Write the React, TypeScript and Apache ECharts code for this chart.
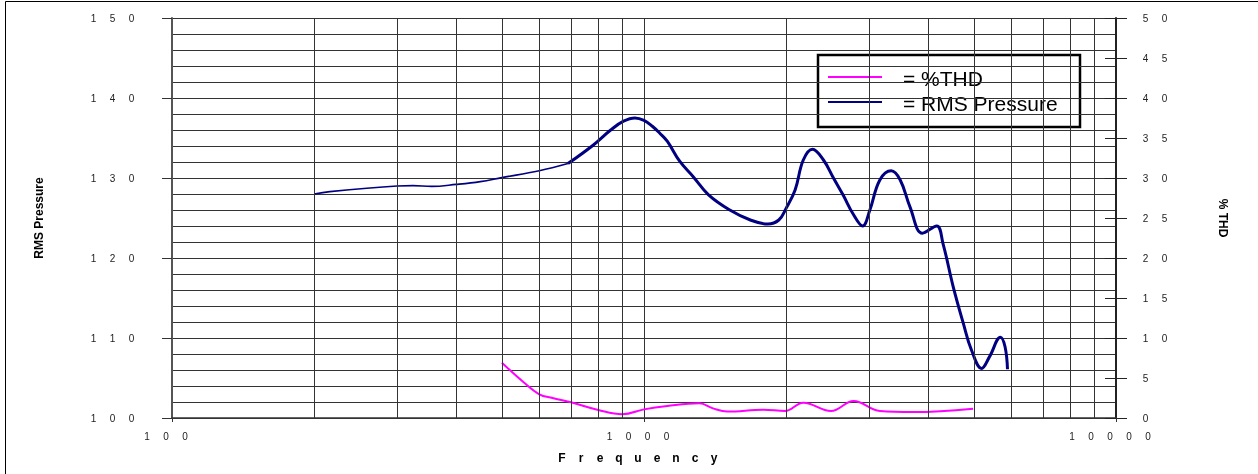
import React, { useEffect, useRef } from 'react';
import * as echarts from 'echarts';

// RMS Pressure (left axis), frequency in Hz
const rmsFreq = [200, 216, 300, 324, 355, 400, 450, 500, 600, 690, 780, 850, 905, 957, 1000, 1040, 1080, 1120, 1190, 1270, 1370, 1520, 1680, 1830, 1930, 2000, 2090, 2175, 2275, 2400, 2520, 2640, 2780, 2905, 3010, 3160, 3340, 3490, 3660, 3890, 4170, 4300, 4520, 4750, 4940, 5190, 5400, 5690, 5820, 5890];
const rmsValue = [128.0, 128.3, 129.0, 129.05, 128.95, 129.2, 129.55, 130.05, 130.9, 131.8, 134.1, 136.0, 137.1, 137.5, 137.2, 136.5, 135.6, 134.6, 132.1, 130.2, 127.9, 126.0, 124.75, 124.25, 124.75, 126.2, 128.5, 132.25, 133.6, 132.25, 130.0, 127.9, 125.4, 124.0, 126.0, 129.75, 130.9, 129.75, 126.4, 123.1, 124.0, 121.8, 116.4, 111.8, 108.5, 106.2, 107.7, 110.1, 108.9, 106.1];
// %THD (right axis)
const thdFreq = [500, 555, 600, 640, 700, 800, 900, 1000, 1120, 1310, 1400, 1500, 1790, 1990, 2175, 2490, 2780, 3160, 3720, 4980];
const thdValue = [6.9, 4.5, 2.96, 2.5, 1.96, 1.0, 0.46, 1.08, 1.5, 1.83, 1.2, 0.8, 1.04, 0.875, 1.92, 0.875, 2.12, 0.875, 0.75, 1.17];
// vertical minor grid lines of the log axis
const minorGridFreq = [200, 300, 400, 500, 600, 700, 800, 900, 2000, 3000, 4000, 5000, 6000, 7000, 8000, 9000];
// axis ranges
const xRange = [100, 10000];
const leftRange = [100, 150];
const rightRange = [0, 50];
const thinSplitFreq = 690;

const FONT = 'Liberation Sans, Arial, sans-serif';
const spaced = (s: string) => s.split('').map((c) => `{d|${c}}`).join('');

export default function App() {
  const ref = useRef<HTMLDivElement>(null);
  useEffect(() => {
    if (!ref.current) return;
    const chart = echarts.init(ref.current, undefined, { renderer: 'svg' });
    const rmsPts = rmsFreq.map((f, i) => [f, rmsValue[i]]);
    const thinPts = rmsPts.filter((p) => p[0] <= thinSplitFreq);
    const thickPts = rmsPts.filter((p) => p[0] >= thinSplitFreq);
    const thdPts = thdFreq.map((f, i) => [f, thdValue[i]]);
    const gridColor = '#333';
    const digitRich = { d: { width: 19, align: 'center', fontSize: 10, color: '#222', fontFamily: FONT, lineHeight: 12 } };

    chart.setOption({
      animation: false,
      textStyle: { fontFamily: FONT },
      grid: { left: 172, right: 142, top: 18, bottom: 56, containLabel: false },
      xAxis: {
        type: 'log',
        logBase: 10,
        min: xRange[0],
        max: xRange[1],
        name: 'Frequency'.split('').map((c) => `{n|${c}}`).join(''),
        nameLocation: 'middle',
        nameGap: 33,
        nameTextStyle: {
          padding: [0, 12, 0, 0],
          rich: { n: { width: 19, align: 'center', fontSize: 12, fontWeight: 'bold', color: '#000', fontFamily: FONT, lineHeight: 14 } },
        },
        axisLine: { show: true, lineStyle: { color: '#333', width: 1.5 } },
        axisTick: { show: true, length: 4, lineStyle: { color: '#333' } },
        axisLabel: {
          margin: 12,
          padding: [0, 12, 0, 0],
          formatter: (v: number) => spaced(String(Math.round(v))),
          rich: digitRich,
        },
        splitLine: { show: true, lineStyle: { color: gridColor, width: 1 } },
      },
      yAxis: [
        {
          type: 'value',
          position: 'left',
          min: leftRange[0],
          max: leftRange[1],
          interval: 10,
          name: 'RMS Pressure',
          nameLocation: 'middle',
          nameGap: 127,
          nameTextStyle: { fontSize: 12, fontWeight: 'bold', color: '#000', fontFamily: FONT },
          axisLine: { show: true, lineStyle: { color: '#555', width: 2 } },
          axisTick: { show: true, length: 10, lineStyle: { color: '#333' } },
          axisLabel: { margin: 31, formatter: (v: number) => spaced(String(v)), rich: digitRich },
          splitLine: { show: true, lineStyle: { color: gridColor, width: 1 } },
          minorTick: { show: false, splitNumber: 5 },
          minorSplitLine: { show: true, lineStyle: { color: gridColor, width: 1 } },
        },
        {
          type: 'value',
          position: 'right',
          min: rightRange[0],
          max: rightRange[1],
          interval: 5,
          name: '% THD',
          nameLocation: 'middle',
          nameRotate: -90,
          nameGap: 101,
          nameTextStyle: { fontSize: 12, fontWeight: 'bold', color: '#000', fontFamily: FONT },
          axisLine: { show: true, lineStyle: { color: '#222', width: 2 } },
          axisTick: { show: true, length: 11, lineStyle: { color: '#222' } },
          axisLabel: { margin: 20, formatter: (v: number) => spaced(String(v)), rich: digitRich },
          splitLine: { show: false },
        },
        {
          type: 'value',
          position: 'right',
          min: rightRange[0],
          max: rightRange[1],
          interval: 5,
          axisLine: { show: false },
          axisTick: { show: true, inside: true, length: 11, lineStyle: { color: '#222' } },
          axisLabel: { show: false },
          splitLine: { show: false },
        },
      ],
      series: [
        {
          type: 'line',
          name: 'grid',
          data: [],
          z: 1,
          silent: true,
          markLine: {
            silent: true,
            symbol: ['none', 'none'],
            label: { show: false },
            lineStyle: { color: gridColor, width: 1, type: 'solid' },
            emphasis: { disabled: true },
            data: minorGridFreq.map((f) => ({ xAxis: f })),
          },
        },
        {
          type: 'line',
          name: 'RMS Pressure',
          yAxisIndex: 0,
          data: thinPts,
          smooth: 0.4,
          showSymbol: false,
          lineStyle: { color: '#000080', width: 1.6 },
          z: 3,
        },
        {
          type: 'line',
          name: 'RMS Pressure',
          yAxisIndex: 0,
          data: thickPts,
          smooth: 0.4,
          showSymbol: false,
          lineStyle: { color: '#000080', width: 3 },
          z: 3,
        },
        {
          type: 'line',
          name: '%THD',
          yAxisIndex: 1,
          data: thdPts,
          smooth: 0.4,
          showSymbol: false,
          lineStyle: { color: '#ff00ff', width: 2 },
          z: 3,
        },
      ],
      graphic: [
        {
          type: 'rect',
          z: 0,
          silent: true,
          shape: { x: 5.5, y: 1.5, width: 1300, height: 520 },
          style: { fill: 'none', stroke: '#000', lineWidth: 1 },
        },
        {
          type: 'group',
          z: 100,
          children: [
            { type: 'rect', shape: { x: 818, y: 55, width: 262, height: 72 }, style: { fill: '#fff', stroke: '#000', lineWidth: 2.5 } },
            { type: 'line', shape: { x1: 828, y1: 77, x2: 882, y2: 77 }, style: { stroke: '#ff00ff', lineWidth: 2 } },
            { type: 'line', shape: { x1: 828, y1: 102, x2: 882, y2: 102 }, style: { stroke: '#000080', lineWidth: 2 } },
            { type: 'text', x: 903, y: 78, style: { text: '= %THD', fontSize: 21, fontFamily: FONT, fill: '#000', verticalAlign: 'middle' } },
            { type: 'text', x: 903, y: 103, style: { text: '= RMS Pressure', fontSize: 21, fontFamily: FONT, fill: '#000', verticalAlign: 'middle' } },
          ],
        },
      ],
    });
    return () => chart.dispose();
  }, []);
  return <div ref={ref} style={{ position: 'fixed', left: 0, top: 0, width: 1258, height: 474 }} />;
}
